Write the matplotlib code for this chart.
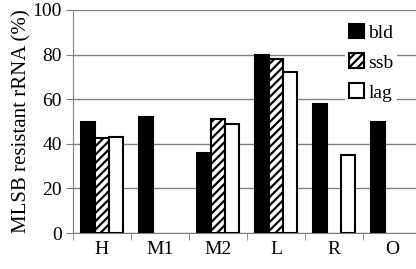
import numpy as np
import matplotlib
matplotlib.use('Agg')
import matplotlib.pyplot as plt

categories = ['H', 'M1', 'M2', 'L', 'R', 'O']
bld = [50, 52, 36, 80, 58, 50]
ssb = [42.5, np.nan, 51, 78, np.nan, np.nan]
lag = [43, np.nan, 49, 72, 35, np.nan]

plt.rcParams['font.family'] = ['Liberation Serif', 'DejaVu Serif']
plt.rcParams['hatch.linewidth'] = 1.6

fig = plt.figure(figsize=(4.16, 2.69), dpi=100)
ax = fig.add_axes([73 / 416, 36 / 269, 348 / 416, 223 / 269])

x = np.arange(len(categories))
w = 0.24
ax.bar(x - w, bld, w, color='black', edgecolor='black', linewidth=1.5, label='bld', zorder=3)
ax.bar(x, ssb, w, color='white', edgecolor='black', linewidth=1.5, hatch='////', label='ssb', zorder=3)
ax.bar(x + w, lag, w, color='white', edgecolor='black', linewidth=1.5, label='lag', zorder=3)

ax.set_xlim(-0.5, len(categories) - 0.5)
ax.set_ylim(0, 100)
ax.set_yticks([0, 20, 40, 60, 80, 100])
ax.yaxis.grid(True, color='#808080', linewidth=1)
ax.set_axisbelow(True)

ax.set_xticks(x)
ax.set_xticklabels(categories, fontsize=14)
ax.set_xticks(np.arange(len(categories)) - 0.5, minor=True)
ax.tick_params(axis='x', which='major', length=0, pad=6)
ax.tick_params(axis='x', which='minor', length=5, color='#808080')
ax.tick_params(axis='y', labelsize=14, length=5, color='#808080', pad=3)

for s in ['top', 'right']:
    ax.spines[s].set_visible(False)
ax.spines['left'].set_color('#808080')
ax.spines['bottom'].set_color('#808080')

ax.set_ylabel('MLSB resistant rRNA (%)', fontsize=15, labelpad=1)

leg = ax.legend(loc='upper right', bbox_to_anchor=(0.96, 1.0), fontsize=14,
                frameon=True, edgecolor='none', facecolor='white', framealpha=1,
                fancybox=False, handlelength=0.8, handleheight=0.8,
                handletextpad=0.2, labelspacing=0.6, borderpad=0.2)

fig.savefig('out.png', dpi=100)
